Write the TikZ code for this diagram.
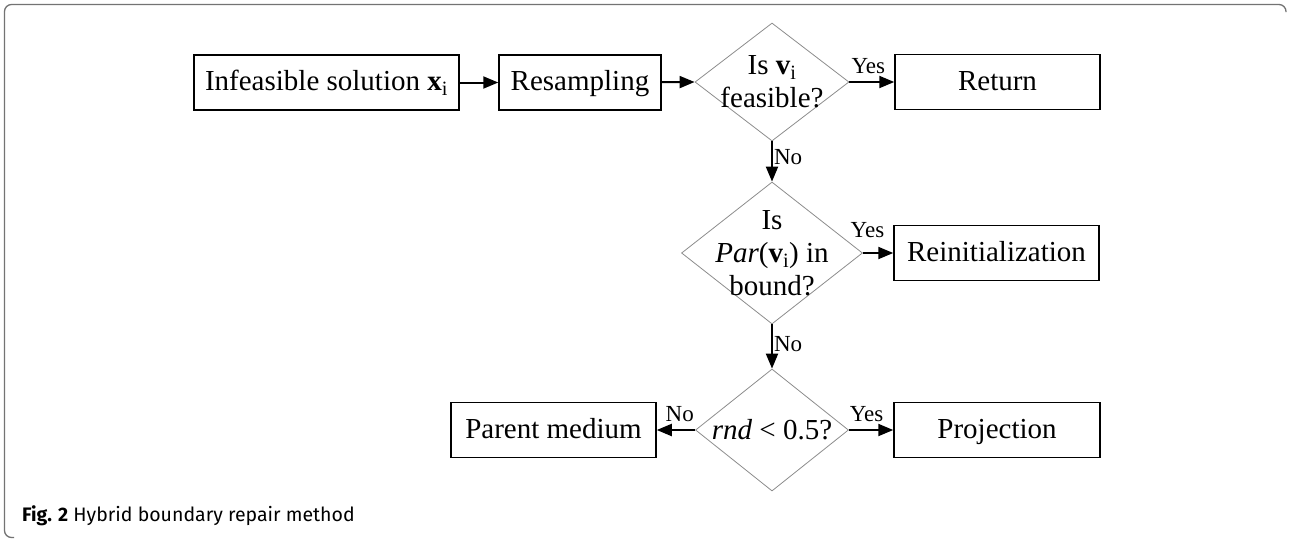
\documentclass[tikz,border=0pt]{standalone}
\usepackage{fontspec}
\setmainfont{Liberation Serif}
\newfontfamily\capfont{Fira Sans}
\usetikzlibrary{shapes.geometric,arrows.meta}

\tikzset{
  block/.style={draw, line width=1.5pt, minimum width=#1, minimum height=55pt,
    inner sep=0pt, text height=22pt, text depth=6pt, font=\fontsize{29}{32}\selectfont},
  decision/.style={draw=black!45, line width=0.8pt, diamond, inner sep=0pt},
  qtext/.style={align=center, inner sep=0pt, font=\fontsize{29}{33}\selectfont},
  arr/.style={line width=2pt, -{Triangle[length=15pt,width=12pt]}},
  lbl/.style={inner sep=1pt, font=\fontsize{23}{24}\selectfont},
  frame/.style={draw=black!55, line width=1.3pt, rounded corners=7pt}
}

\begin{document}
\begin{tikzpicture}[x=1pt,y=-1pt]
    \useasboundingbox (0,0) rectangle (1289,539);
    \draw[frame] (1286,12)--(1286,4.5)--(4.5,4.5)--(4.5,537.5)--(14,537.5);
    % first row
    \node[block=265pt] (infeas) at (326.5,82.5) {Infeasible solution \textbf{x}\textsubscript{i}};
    \node[block=162pt] (resamp) at (580,82.5) {Resampling};
    \node[decision, minimum width=154pt, minimum height=118pt] (q1) at (772,82) {};
    \node[qtext] (q1txt) at (q1) {Is \textbf{v}\textsubscript{i}\\feasible?};
    \node[block=205pt] (ret) at (997.5,82) {Return};
    % second row
    \node[decision, minimum width=181pt, minimum height=142pt] (q2) at (772,253) {};
    \node[qtext] (q2txt) at (q2) {Is\\\textit{Par}(\textbf{v}\textsubscript{i}) in\\bound?};
    \node[block=205pt] (reinit) at (996.5,253) {Reinitialization};
    % third row
    \node[decision, minimum width=153pt, minimum height=122pt] (q3) at (772,430) {};
    \node[qtext] (q3txt) at (q3) {\textit{rnd} < 0.5?};
    \node[block=205pt] (parent) at (553.5,430) {Parent medium};
    \node[block=206pt] (proj) at (997,430) {Projection};
    % connectors
    \draw[arr] (infeas) -- (resamp);
    \draw[arr] (resamp) -- (q1.west);
    \draw[arr] (q1.east) -- node[lbl, above=6pt, pos=0.42] (yes1) {Yes} (ret);
    \draw[arr] (q1.south) -- node[lbl, right, pos=0.38] (no1) {No} (q2.north);
    \draw[arr] (q2.east) -- node[lbl, above=13pt, pos=0.15] (yes2) {Yes} (reinit);
    \draw[arr] (q2.south) -- node[lbl, right, pos=0.45] (no2) {No} (q3.north);
    \draw[arr] (q3.east) -- node[lbl, above=6pt, pos=0.4] (yes3) {Yes} (proj);
    \draw[arr] (q3.west) -- node[lbl, above=6pt, pos=0.4] (no3) {No} (parent);
    % caption
    \node[anchor=base west, inner sep=0pt, font=\capfont\fontsize{19.5}{22}\selectfont] (cap) at (22,521)
        {\textbf{Fig. 2} Hybrid boundary repair method};
\end{tikzpicture}
\end{document}
